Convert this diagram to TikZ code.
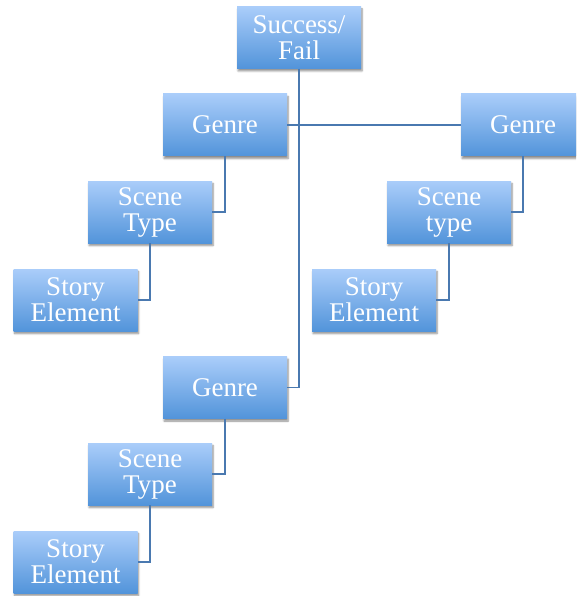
\documentclass[tikz,border=0pt]{standalone}
\usepackage{fontspec}
\setmainfont{Liberation Serif}
\usetikzlibrary{shadows.blur}
\definecolor{boxtop}{HTML}{AACDFA}
\definecolor{boxbot}{HTML}{5294DA}
\definecolor{linec}{HTML}{4A79B0}
\tikzset{
  box/.style={rectangle, minimum width=124pt, minimum height=62pt, inner sep=0pt,
    top color=boxtop, bottom color=boxbot, draw=none,
    blur shadow={shadow xshift=1pt, shadow yshift=-2.5pt, shadow blur steps=6, shadow opacity=45},
    text=white, align=center,
    font=\fontsize{27pt}{26pt}\selectfont},
  conn/.style={draw=linec, line width=1.8pt}
}
\begin{document}
\begin{tikzpicture}[x=1pt,y=-1pt]
\clip (0,0) rectangle (576,596);
\useasboundingbox (0,0) rectangle (576,596);
\node[box] (sf) at (299,37.5) {Success/\\Fail};
\node[box] (g1) at (225,125) {Genre};
\node[box] (g2) at (523,125) {Genre};
\node[box] (st1) at (150,212) {Scene\\Type};
\node[box] (st2) at (449,212) {Scene\\type};
\node[box] (se1) at (75.5,300) {Story\\Element};
\node[box] (se2) at (374,300) {Story\\Element};
\node[box] (g3) at (225,387.5) {Genre};
\node[box] (st3) at (150,474) {Scene\\Type};
\node[box] (se3) at (75.5,562) {Story\\Element};
\draw[conn] (sf.south) |- (g3.east);
\draw[conn] (g1.east) -- (g2.west);
\draw[conn] (g1.south) |- (st1.east);
\draw[conn] (st1.south) |- (se1.east);
\draw[conn] (g2.south) |- (st2.east);
\draw[conn] (st2.south) |- (se2.east);
\draw[conn] (g3.south) |- (st3.east);
\draw[conn] (st3.south) |- (se3.east);
\end{tikzpicture}
\end{document}
